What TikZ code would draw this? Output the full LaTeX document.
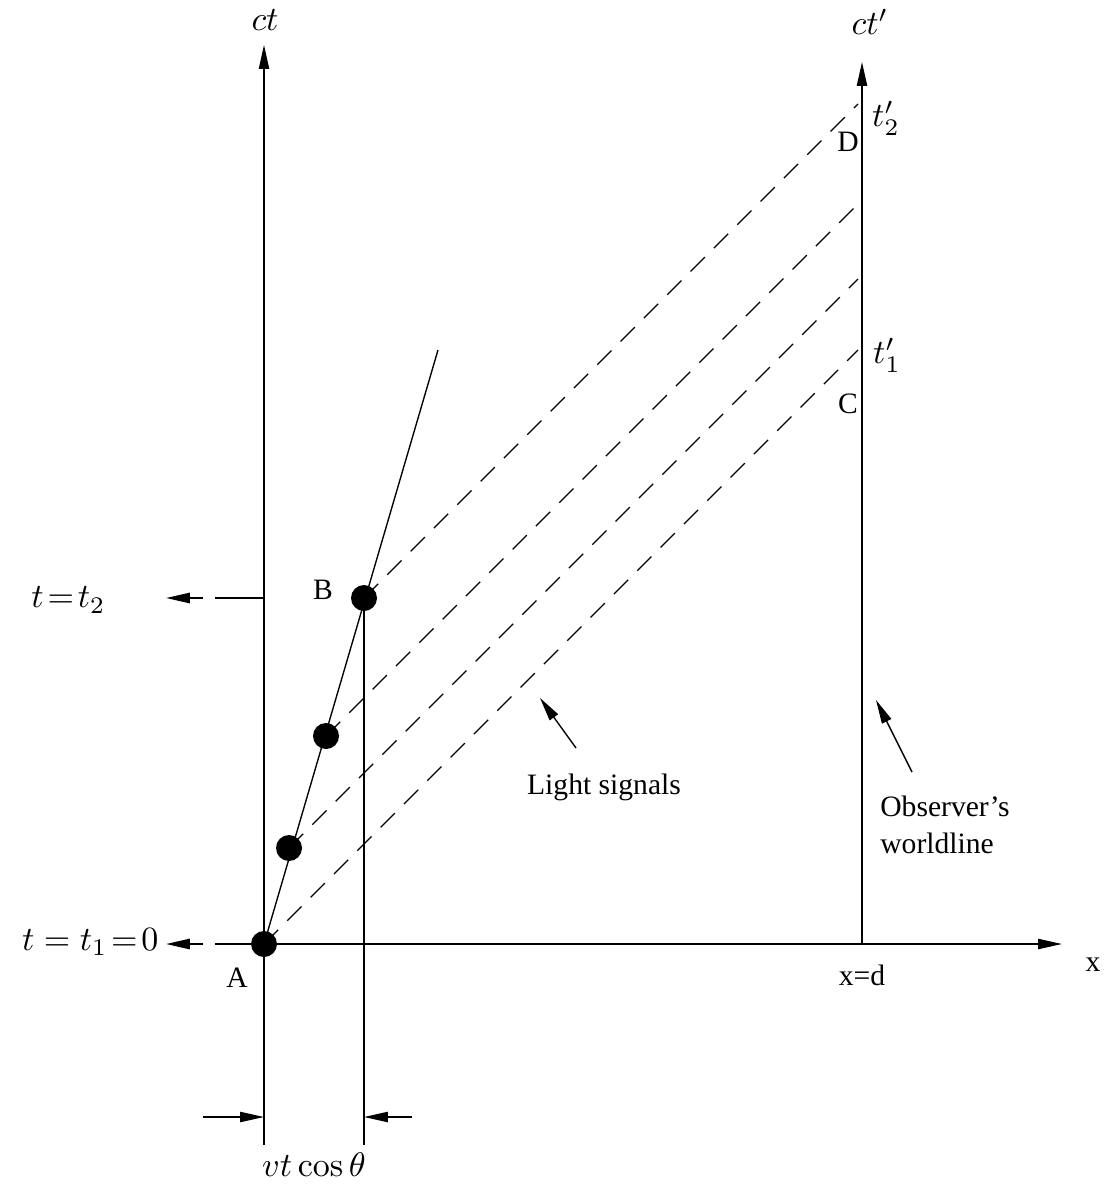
\documentclass[tikz,border=0pt]{standalone}
\usepackage[no-math]{fontspec}
\setmainfont{Liberation Serif}
\usetikzlibrary{arrows.meta}
\begin{document}
\begin{tikzpicture}[x=0.294pt,y=-0.294pt,
  every node/.style={inner sep=0pt, font=\fontsize{8.7}{10.8}\selectfont},
  mathlab/.style={font=\fontsize{10}{12}\selectfont},
  ln/.style={line width=0.4pt},
  arr/.style={line width=0.4pt,-{Triangle[length=7pt,width=3pt]}},
  sig/.style={line width=0.4pt,dash pattern=on 5.9pt off 3.8pt},
  dot/.style={circle,fill=black,minimum size=26*0.294pt,inner sep=0pt}]
\useasboundingbox (0,0) rectangle (1104,1193);
% axes
\coordinate (ctb) at (264,1145); \coordinate (ctt) at (264,45);
\draw[arr] (ctb) -- (ctt);
\node[mathlab] (ctlab) at (265,20) {$ct$};
\coordinate (cpb) at (862,944); \coordinate (cpt) at (862,62);
\draw[arr] (cpb) -- (cpt);
\node[mathlab] (cplab) at (870,22) {$ct'$};
\coordinate (xl) at (215,944); \coordinate (xr) at (1062,944);
\draw[arr] (xl) -- (xr);
\node (xlab) at (1093,965) {x};
\node (xd) at (862,975) {x=d};
% events
\node[dot] (A) at (264,944) {};
\node[dot] (P1) at (289,848) {};
\node[dot] (P2) at (326,736) {};
\node[dot] (B) at (364,598) {};
\coordinate (wtop) at (438,350);
\coordinate (vb) at (364,1145);
\draw[ln] (A.center) -- (wtop);
\draw[ln] (B.center) -- (vb);
% light signals
\coordinate (eA) at (858,350);
\coordinate (e1) at (858,279);
\coordinate (e2) at (858,204);
\coordinate (eB) at (858,104);
\draw[sig] (A.center) -- (eA);
\draw[sig] (P1.center) -- (e1);
\draw[sig] (P2.center) -- (e2);
\draw[sig] (B.center) -- (eB);
% time markers
\coordinate (t2a) at (215,598); \coordinate (t2b) at (264,598);
\draw[ln] (t2a) -- (t2b);
\coordinate (t2s) at (203,598); \coordinate (t2e) at (166,598);
\draw[arr,line width=0.6pt] (t2s) -- (t2e);
\node[mathlab,anchor=east] (t2lab) at (106,600) {$t\!=\!t_2$};
\coordinate (t1s) at (203,944); \coordinate (t1e) at (166,944);
\draw[arr,line width=0.6pt] (t1s) -- (t1e);
\node[mathlab,anchor=east] (t1lab) at (159,942) {$t = t_1 \!=\! 0$};
% labels
\node (Alab) at (237,978) {A};
\node (Blab) at (323,590) {B};
\node (Clab) at (848,404) {C};
\node (Dlab) at (848,142) {D};
\node[mathlab] (t2p) at (886,118) {$t'_2$};
\node[mathlab] (t1p) at (887,355) {$t'_1$};
% annotations
\coordinate (ls1) at (576,748); \coordinate (ls2) at (540,698);
\draw[arr] (ls1) -- (ls2);
\node (lslab) at (604,787) {Light signals};
\coordinate (ob1) at (912,772); \coordinate (ob2) at (876,700);
\draw[arr] (ob1) -- (ob2);
\node[align=left,font=\fontsize{8.7}{10.9}\selectfont] (oblab) at (945,825) {Observer’s\\worldline};
% dimension
\coordinate (d1s) at (203,1117); \coordinate (d1e) at (264,1117);
\draw[arr] (d1s) -- (d1e);
\coordinate (d2s) at (412,1117); \coordinate (d2e) at (364,1117);
\draw[arr] (d2s) -- (d2e);
\node[mathlab] (dimlab) at (314,1165) {$vt\cos\theta$};
\end{tikzpicture}
\end{document}
